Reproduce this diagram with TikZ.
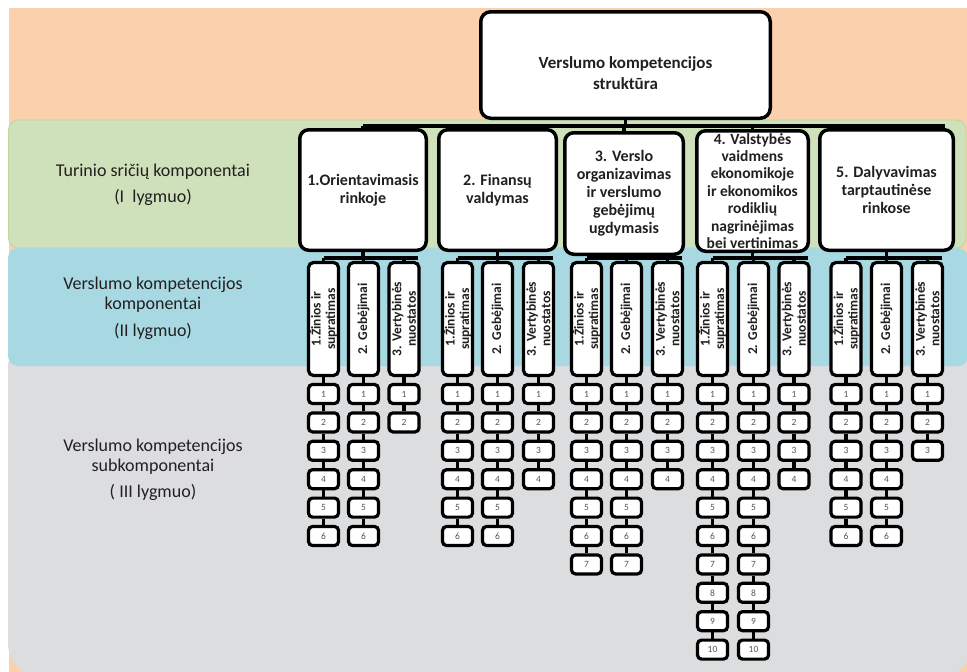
\documentclass[tikz,border=0pt]{standalone}
\usepackage{fontspec}
\setmainfont{Carlito}
\usetikzlibrary{calc}
\pgfdeclarelayer{bg}
\pgfdeclarelayer{links}
\pgfsetlayers{bg,links,main}
\definecolor{bgorange}{HTML}{FBD0AC}
\definecolor{bggreen}{HTML}{CEE1BA}
\definecolor{bggreenline}{HTML}{B9D89E}
\definecolor{bgblue}{HTML}{A8D9E3}
\definecolor{bggray}{HTML}{DCDDDF}
\definecolor{labeltext}{HTML}{231F20}
\definecolor{numtext}{HTML}{555555}
\tikzset{
  conn/.style={line width=3.5pt, draw=black},
  topbox/.style={draw=black, line width=3.5pt, fill=white, rounded corners=10pt, inner sep=0pt},
  toptext/.style={align=center, inner sep=0pt, font=\bfseries\fontsize{17}{20}\selectfont, text=labeltext},
  lvone/.style={draw=black, line width=3.5pt, fill=white, rounded corners=9pt, align=center, inner sep=0pt, font=\bfseries\fontsize{16}{18}\selectfont, text=labeltext},
  lvtwo/.style={draw=black, line width=3.2pt, fill=white, rounded corners=5pt, rotate=90, minimum width=113pt, minimum height=30pt, inner sep=0pt, align=center, font=\bfseries\fontsize{13.5}{14.5}\selectfont, text=labeltext},
  lvthree/.style={draw=black, line width=3.2pt, fill=white, rounded corners=4pt, minimum width=30pt, minimum height=19pt, inner sep=0pt, font=\fontsize{9.5}{10}\selectfont, text=numtext},
  bandlabel/.style={align=center, inner sep=0pt, font=\fontsize{18}{20}\selectfont, text=labeltext}
}
\newcommand\kcol[4]{% #1 name, #2 x, #3 count, #4 text
  \node[lvtwo] (#1) at (#2,319) {#4};
  \foreach \i in {1,...,#3}{\node[lvthree] (#1-\i) at (#2,{394+28.4*(\i-1)}) {\i};}
  \begin{pgfonlayer}{links}
    \draw[conn] (#1) -- (#1 |- ytwo);
    \draw[conn] (#1) -- (#1-1);
    \foreach \i [remember=\i as \p (initially 1)] in {2,...,#3}{\draw[conn] (#1-\p) -- (#1-\i);}
  \end{pgfonlayer}
}
\newcommand\kgroup[9]{% #1 prefix, #2 parent, #3 xa, #4 na, #5 xb, #6 nb, #7 xc, #8 nc, #9 bus end name
  \kcol{#1a}{#3}{#4}{1.Žinios ir\\supratimas}
  \kcol{#1b}{#5}{#6}{2. Gebėjimai}
  \kcol{#1c}{#7}{#8}{3. Vertybinės\\nuostatos}
  \coordinate (#9) at ({#7+14},258);
  \begin{pgfonlayer}{links}
    \draw[conn] (#2) -- (#2 |- ytwo);
    \draw[conn] (#1a |- ytwo) -- (#9);
  \end{pgfonlayer}
}
\begin{document}
\begin{tikzpicture}[x=1pt,y=-1pt]
\useasboundingbox (0,0) rectangle (967,672);
\begin{pgfonlayer}{bg}
  \fill[bgorange] (9,8) -- (990,8) -- (990,700) -- (9,700) -- cycle;
  \fill[bggray] (8,362) -- (972,362) [rounded corners=35pt] -- (972,678) -- (8,678) [sharp corners] -- cycle;
  \filldraw[fill=bggreen, draw=bggreenline, line width=0.8pt, rounded corners=10pt] (8.5,120) rectangle (966,248);
  \fill[bgblue, rounded corners=10pt] (8,248) rectangle (968,366);
\end{pgfonlayer}

\node[bandlabel] (lab1) at (153,185) {Turinio sričių komponentai\\[6.5pt](I\ \ lygmuo)};
\node[bandlabel] (lab2) at (153,308) {Verslumo kompetencijos\\komponentai\\[7pt](II lygmuo)};
\node[bandlabel] (lab3) at (153,470) {Verslumo kompetencijos\\subkomponentai\\[6pt]( III lygmuo)};

\node[topbox, minimum width=289.5pt, minimum height=106.5pt] (top) at (625.5,65) {};
\node[toptext] (toptxt) at (625.5,73) {Verslumo kompetencijos\\[1pt]struktūra};

\node[lvone, minimum width=126.5pt, minimum height=120.5pt] (b1) at (363,190) {1.Orientavimasis\\rinkoje};
\node[lvone, minimum width=117.5pt, minimum height=120.5pt] (b2) at (497.5,190) {2. Finansų\\valdymas};
\node[lvone, minimum width=118.5pt, minimum height=121.5pt] (b3) at (624,193.5) {3. Verslo\\organizavimas\\ir verslumo\\gebėjimų\\ugdymasis};
\node[lvone, minimum width=111.5pt, minimum height=120.5pt, font=\bfseries\fontsize{15.5}{17.4}\selectfont] (b4) at (752.5,191) {4. Valstybės\\vaidmens\\ekonomikoje\\ir ekonomikos\\rodiklių\\nagrinėjimas\\bei vertinimas};
\node[lvone, minimum width=133.5pt, minimum height=120.5pt] (b5) at (886.5,190) {5. Dalyvavimas\\tarptautinėse\\rinkose};

\coordinate (yone) at (0,126);
\coordinate (topend) at (945,126);
\coordinate (ytwo) at (0,258);
\begin{pgfonlayer}{links}
  \draw[conn] (top) -- (top |- yone);
  \draw[conn] (b1 |- yone) -- (topend);
  \foreach \b in {b1,b2,b3,b4,b5}{\draw[conn] (\b) -- (\b |- yone);}
\end{pgfonlayer}

\kgroup{ga}{b1}{323.5}{6}{363.5}{6}{404}{2}{gaend}
\kgroup{gb}{b2}{457.5}{6}{497.5}{6}{538.5}{4}{gbend}
\kgroup{gc}{b3}{586.5}{7}{626.5}{7}{667.5}{4}{gcend}
\kgroup{gd}{b4}{712.5}{10}{753.5}{10}{794}{4}{gdend}
\kgroup{ge}{b5}{846}{6}{886.5}{6}{927.5}{3}{geend}
\end{tikzpicture}
\end{document}
